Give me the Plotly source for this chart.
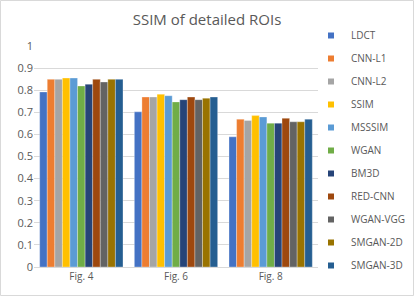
import plotly.graph_objects as go

categories = ["Fig. 4", "Fig. 6", "Fig. 8"]
methods = ["LDCT", "CNN-L1", "CNN-L2", "SSIM", "MSSSIM", "WGAN", "BM3D",
           "RED-CNN", "WGAN-VGG", "SMGAN-2D", "SMGAN-3D"]
ldct = [0.792, 0.702, 0.589]
cnn_l1 = [0.849, 0.769, 0.669]
cnn_l2 = [0.849, 0.769, 0.663]
ssim = [0.855, 0.782, 0.685]
msssim = [0.855, 0.775, 0.679]
wgan = [0.819, 0.747, 0.651]
bm3d = [0.827, 0.757, 0.651]
red_cnn = [0.849, 0.769, 0.673]
wgan_vgg = [0.837, 0.757, 0.657]
smgan_2d = [0.849, 0.764, 0.657]
smgan_3d = [0.849, 0.769, 0.669]
series = [ldct, cnn_l1, cnn_l2, ssim, msssim, wgan, bm3d, red_cnn, wgan_vgg, smgan_2d, smgan_3d]
colors = ["#4472C4", "#ED7D31", "#A5A5A5", "#FFC000", "#5B9BD5", "#70AD47",
          "#264478", "#9E480E", "#636363", "#997300", "#255E91"]

W, H = 415, 297
ml, mr, mt, mb = 34, 97, 46, 30
pw, ph = W - ml - mr, H - mt - mb

fig = go.Figure()
for name, vals, c in zip(methods, series, colors):
    fig.add_trace(go.Bar(x=categories, y=vals, name=name, marker_color=c,
                         marker_line=dict(color="rgba(255,255,255,0.6)", width=0.5),
                         showlegend=False))
for name, c in zip(methods, colors):
    fig.add_trace(go.Scatter(x=[None], y=[None], mode="markers", name=name,
                             marker=dict(symbol="square", size=6, color=c),
                             legendgroup=name, showlegend=True))

fig.update_layout(
    width=W, height=H,
    margin=dict(l=ml, r=mr, t=mt, b=mb, autoexpand=False),
    paper_bgcolor="white", plot_bgcolor="white",
    barmode="group", bargap=0.12, bargroupgap=0,
    font=dict(family="Open Sans, Noto Sans, sans-serif", color="#595959", size=10),
    title=dict(text="SSIM of detailed ROIs", x=207 / W, xanchor="center",
               y=1 - 20 / H, yanchor="middle",
               font=dict(size=15, color="#595959")),
    showlegend=True,
    legend=dict(x=(311 - ml) / pw, xanchor="left", y=1 + (mt - 21) / ph, yanchor="top",
                font=dict(size=10, color="#595959"), tracegroupgap=4,
                itemwidth=30, bgcolor="rgba(0,0,0,0)", maxheight=290),
    xaxis=dict(showgrid=False, showline=True, linecolor="#D9D9D9", linewidth=1,
               ticks="", automargin=False, tickfont=dict(size=10, color="#595959")),
    yaxis=dict(range=[0, 1], dtick=0.1, tick0=0, showgrid=True, gridcolor="#D9D9D9",
               gridwidth=1, zeroline=False, showline=False, ticks="", automargin=False,
               tickformat="~g", tickfont=dict(size=11, color="#595959")),
    shapes=[dict(type="rect", xref="paper", yref="paper",
                 x0=-(ml - 0.5) / pw, x1=1 + (mr - 1.5) / pw,
                 y0=-(mb - 1.5) / ph, y1=1 + (mt - 0.5) / ph,
                 line=dict(color="#D9D9D9", width=1), fillcolor="rgba(0,0,0,0)")],
)

fig.write_html("out.html", config={"displayModeBar": False},
               post_script="document.body.style.margin='0';document.body.style.padding='0';")
